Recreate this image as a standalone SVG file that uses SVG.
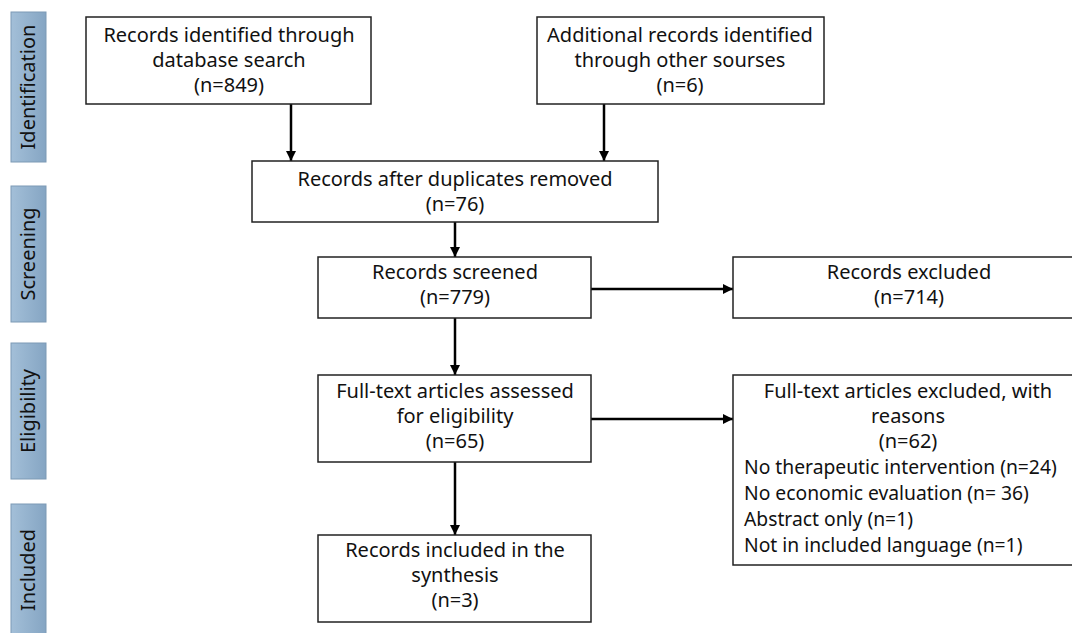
<svg xmlns="http://www.w3.org/2000/svg" width="1072" height="633" viewBox="0 0 1072 633">
<defs>
<linearGradient id="tabg" x1="0" y1="0" x2="1" y2="0">
<stop offset="0" stop-color="#a3bfd8"/>
<stop offset="1" stop-color="#85a5c3"/>
</linearGradient>
<marker id="ah" viewBox="0 0 10 10" refX="10" refY="5" markerWidth="4" markerHeight="4" orient="auto" markerUnits="strokeWidth">
<path d="M0,0 L10,5 L0,10 Z" fill="#000"/>
</marker>
</defs>
<style>
.tab{fill:url(#tabg);stroke:#7d9ab5;stroke-width:1}
.tabt{font-family:"Noto Sans","Open Sans",sans-serif;font-size:20px;fill:#111;text-anchor:middle}
.box{fill:#fff;stroke:#222;stroke-width:1.5}
.t{font-family:"Noto Sans","Open Sans",sans-serif;font-size:20px;fill:#111;text-anchor:middle}
.tl{font-family:"Noto Sans","Open Sans",sans-serif;font-size:19.3px;fill:#111;text-anchor:start}
.c{stroke:#000;stroke-width:2.5;fill:none;marker-end:url(#ah)}
</style>
<rect width="1072" height="633" fill="#fff"/>
<g id="tab-identification"><rect class="tab" x="11" y="12" width="35" height="150"/><text class="tabt" transform="translate(35,87) rotate(-90)">Identification</text></g>
<g id="tab-screening"><rect class="tab" x="11" y="186" width="35" height="136"/><text class="tabt" transform="translate(35,254) rotate(-90)">Screening</text></g>
<g id="tab-eligibility"><rect class="tab" x="11" y="343" width="35" height="136"/><text class="tabt" transform="translate(35,411) rotate(-90)">Eligibility</text></g>
<g id="tab-included"><rect class="tab" x="11" y="504" width="35" height="140"/><text class="tabt" transform="translate(35,570) rotate(-90)">Included</text></g>
<g id="connectors">
<line class="c" x1="291" y1="104" x2="291" y2="161"/>
<line class="c" x1="604" y1="104" x2="604" y2="161"/>
<line class="c" x1="455" y1="222" x2="455" y2="257"/>
<line class="c" x1="591" y1="289" x2="733" y2="289"/>
<line class="c" x1="455" y1="318" x2="455" y2="375"/>
<line class="c" x1="591" y1="419" x2="733" y2="419"/>
<line class="c" x1="455" y1="462" x2="455" y2="535"/>
</g>
<g id="n1"><rect class="box" x="86" y="17" width="285" height="87"/>
<text class="t" x="229" y="42">Records identified through</text><text class="t" x="229" y="67">database search</text><text class="t" x="229" y="92">(n=849)</text></g>
<g id="n2"><rect class="box" x="537" y="17" width="287" height="87"/>
<text class="t" x="680" y="42">Additional records identified</text><text class="t" x="680" y="67">through other sourses</text><text class="t" x="680" y="92">(n=6)</text></g>
<g id="n3"><rect class="box" x="252" y="161" width="406" height="61"/>
<text class="t" x="455" y="186">Records after duplicates removed</text><text class="t" x="455" y="211">(n=76)</text></g>
<g id="n4"><rect class="box" x="318" y="257" width="273" height="61"/>
<text class="t" x="455" y="279">Records screened</text><text class="t" x="455" y="304">(n=779)</text></g>
<g id="n5"><rect class="box" x="733" y="257" width="345" height="61"/>
<text class="t" x="909" y="279">Records excluded</text><text class="t" x="909" y="304">(n=714)</text></g>
<g id="n6"><rect class="box" x="318" y="375" width="273" height="87"/>
<text class="t" x="455" y="398">Full-text articles assessed</text><text class="t" x="455" y="423">for eligibility</text><text class="t" x="455" y="448">(n=65)</text></g>
<g id="n7"><rect class="box" x="733" y="375" width="345" height="190"/>
<text class="t" x="908" y="398">Full-text articles excluded, with</text><text class="t" x="908" y="423">reasons</text><text class="t" x="908" y="448">(n=62)</text>
<text class="tl" x="744" y="474">No therapeutic intervention (n=24)</text><text class="tl" x="744" y="500">No economic evaluation (n= 36)</text><text class="tl" x="744" y="526">Abstract only (n=1)</text><text class="tl" x="744" y="552">Not in included language (n=1)</text></g>
<g id="n8"><rect class="box" x="318" y="535" width="273" height="87"/>
<text class="t" x="455" y="557">Records included in the</text><text class="t" x="455" y="582">synthesis</text><text class="t" x="455" y="607">(n=3)</text></g>
</svg>
